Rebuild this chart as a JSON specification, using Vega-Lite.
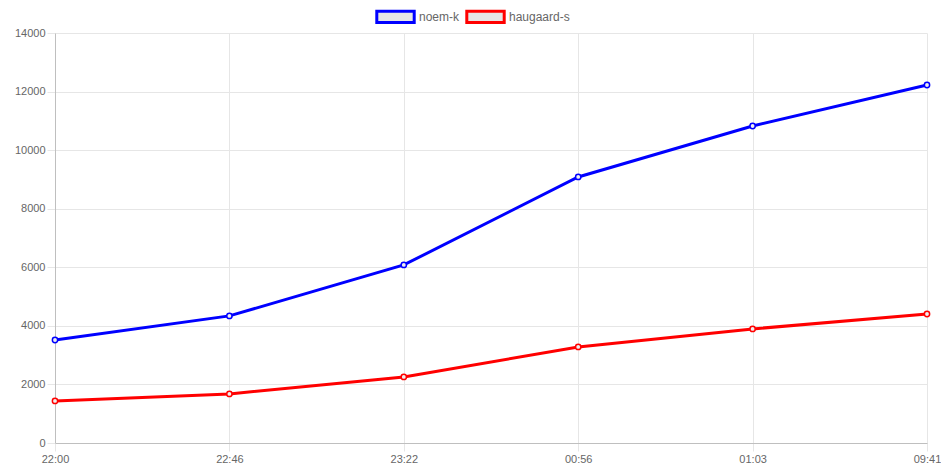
{
  "$schema": "https://vega.github.io/schema/vega-lite/v6.json",
  "width": 872,
  "height": 410,
  "autosize": {"type": "none"},
  "padding": {"left": 55, "top": 33, "right": 14, "bottom": 27},
  "background": "white",
  "config": {
    "font": "Liberation Sans",
    "view": {"stroke": null},
    "axis": {
      "labelFont": "Liberation Sans",
      "labelFontSize": 11,
      "labelColor": "#666666",
      "gridColor": "#e6e6e6",
      "tickColor": "#e6e6e6",
      "domainColor": "#bfbfbf",
      "title": null
    }
  },
  "data": {
    "values": [
      {"time": "22:00", "series": "noem-k", "value": 3517},
      {"time": "22:46", "series": "noem-k", "value": 4340},
      {"time": "23:22", "series": "noem-k", "value": 6080},
      {"time": "00:56", "series": "noem-k", "value": 9085},
      {"time": "01:03", "series": "noem-k", "value": 10825},
      {"time": "09:41", "series": "noem-k", "value": 12225},
      {"time": "22:00", "series": "haugaard-s", "value": 1435},
      {"time": "22:46", "series": "haugaard-s", "value": 1675},
      {"time": "23:22", "series": "haugaard-s", "value": 2255},
      {"time": "00:56", "series": "haugaard-s", "value": 3280},
      {"time": "01:03", "series": "haugaard-s", "value": 3895},
      {"time": "09:41", "series": "haugaard-s", "value": 4405}
    ]
  },
  "mark": {
    "type": "line",
    "strokeWidth": 3,
    "point": {"filled": false, "fill": "#f0f0f0", "size": 28, "strokeWidth": 1.5}
  },
  "encoding": {
    "x": {
      "field": "time",
      "type": "ordinal",
      "sort": null,
      "scale": {"type": "point", "padding": 0},
      "axis": {"labelAngle": 0, "grid": true, "tickSize": 8, "labelPadding": 2, "domainColor": "#bfbfbf"}
    },
    "y": {
      "field": "value",
      "type": "quantitative",
      "scale": {"domain": [0, 14000], "nice": false},
      "axis": {"values": [0, 2000, 4000, 6000, 8000, 10000, 12000, 14000], "grid": true, "tickSize": 8, "labelPadding": 2, "format": "d"}
    },
    "color": {
      "field": "series",
      "type": "nominal",
      "sort": ["noem-k", "haugaard-s"],
      "scale": {"domain": ["noem-k", "haugaard-s"], "range": ["#0000ff", "#ff0000"]},
      "legend": {
        "orient": "none",
        "legendX": 320,
        "legendY": -37,
        "direction": "horizontal",
        "title": null,
        "symbolType": "M-1,-0.3H1V0.3H-1Z",
        "symbolSize": 1400,
        "symbolStrokeWidth": 3,
        "symbolFillColor": "#e6e6e6",
        "labelFont": "Liberation Sans",
        "labelFontSize": 12,
        "labelColor": "#666666",
        "labelOffset": 3,
        "columnPadding": 0,
        "encode": {"symbols": {"update": {"fill": {"value": "#e6e6e6"}, "fillOpacity": {"value": 1}}}}
      }
    }
  }
}
